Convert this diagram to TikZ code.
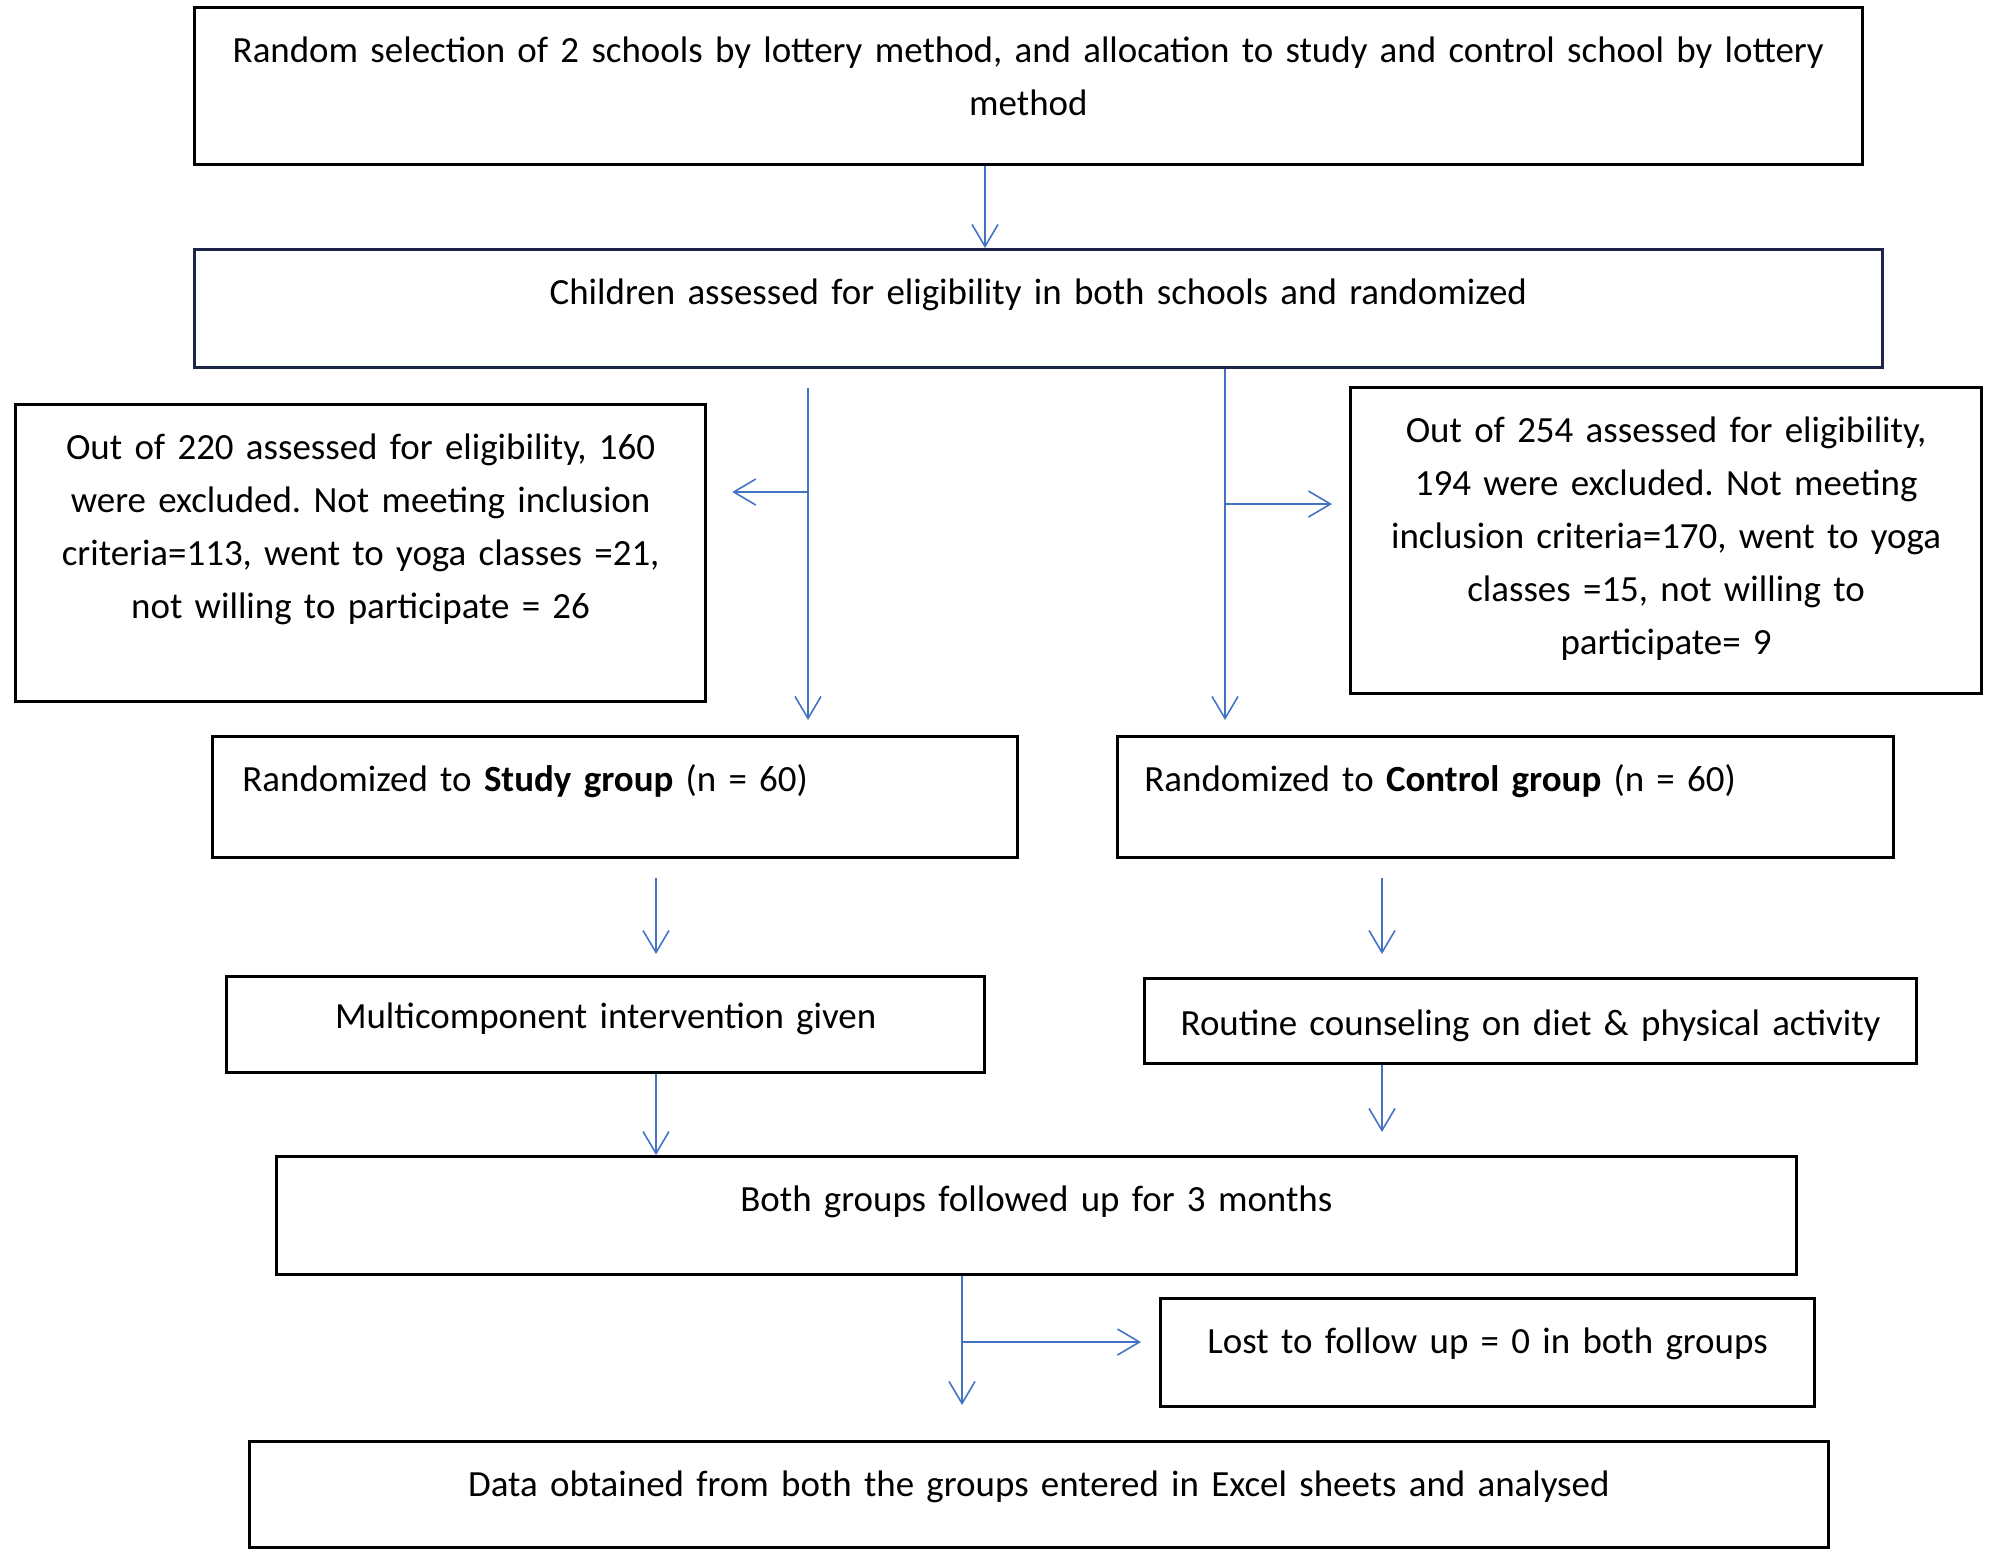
\documentclass[tikz,border=0pt]{standalone}
\usepackage{fontspec}
\setmainfont{Carlito}
\usepackage{xcolor}
\usetikzlibrary{arrows.meta,positioning}
\definecolor{flowblue}{RGB}{68,114,196}
\definecolor{navyline}{RGB}{28,36,72}
\frenchspacing

\begin{document}
\begin{tikzpicture}[
    x=0.01cm, y=-0.01cm,
    box/.style={rectangle, draw=black, line width=0.8pt, inner xsep=0.1cm, inner ysep=0pt, text height=0.55cm, anchor=north west, align=center, font=\fontsize{10.5}{15.1}\selectfont},
    leftbox/.style={box, inner xsep=0.3cm, align=left},
    arrow/.style={-{Straight Barb[length=0.22cm, width=0.26cm]}, line width=0.45pt, draw=flowblue}
]
    \useasboundingbox (0,0) rectangle (1995,1553);

    \node (sel) [box, text width=16.47cm, text depth=1.02cm] at (193,6) {Random selection of 2 schools by lottery method, and allocation to study and control school by lottery\\method};
    \node (assess) [box, draw=navyline, text width=16.67cm, text depth=0.63cm] at (193,248) {Children assessed for eligibility in both schools and randomized};
    \node (exl) [box, text width=6.70cm, text depth=2.42cm] at (14,403) {Out of 220 assessed for eligibility, 160\\were excluded. Not meeting inclusion\\criteria=113, went to yoga classes =21,\\not willing to participate = 26};
    \node (exr) [box, text width=6.11cm, text depth=2.51cm] at (1349,386) {Out of 254 assessed for eligibility,\\194 were excluded. Not meeting\\inclusion criteria=170, went to yoga\\classes =15, not willing to\\participate= 9};
    \node (study) [leftbox, text width=7.45cm, text depth=0.66cm] at (211,735) {Randomized to \textbf{Study group} (n = 60)};
    \node (control) [leftbox, inner xsep=0.27cm, text width=7.22cm, text depth=0.66cm] at (1116,735) {Randomized to \textbf{Control group} (n = 60)};
    \node (multi) [box, text width=7.38cm, text height=0.52cm, text depth=0.44cm] at (225,975) {Multicomponent intervention given};
    \node (routine) [box, text width=7.52cm, text height=0.57cm, text depth=0.28cm] at (1143,977) {Routine counseling on diet \& physical activity};
    \node (both) [box, text width=14.99cm, text depth=0.63cm] at (275,1155) {Both groups followed up for 3 months};
    \node (lost) [box, text width=6.34cm, text depth=0.53cm] at (1159,1297) {Lost to follow up = 0 in both groups};
    \node (data) [box, text width=15.58cm, text depth=0.51cm] at (248,1440) {Data obtained from both the groups entered in Excel sheets and analysed};

    \coordinate (s0) at (985,163);
    \coordinate (ltrunk) at (808,388);
    \coordinate (lsplit) at (808,492);
    \coordinate (rsplit) at (1225,504);
    \coordinate (s1) at (656,878);
    \coordinate (c1) at (1382,878);
    \coordinate (dsplit) at (962,1342);

    \draw [arrow] (sel.south -| s0) -- (assess.north -| s0);
    \draw [arrow, shorten >=0.15cm] (ltrunk) -- (ltrunk |- study.north);
    \draw [arrow, shorten >=0.25cm] (lsplit) -- (lsplit -| exl.east);
    \draw [arrow, shorten >=0.15cm] (assess.south -| rsplit) -- (rsplit |- control.north);
    \draw [arrow, shorten >=0.17cm] (rsplit) -- (rsplit -| exr.west);
    \draw [arrow, shorten >=0.21cm] (s1) -- (s1 |- multi.north);
    \draw [arrow, shorten >=0.23cm] (c1) -- (c1 |- routine.north);
    \draw [arrow] (multi.south -| s1) -- (both.north -| s1);
    \draw [arrow, shorten >=0.23cm] (routine.south -| c1) -- (both.north -| c1);
    \draw [arrow, shorten >=0.35cm] (both.south -| dsplit) -- (data.north -| dsplit);
    \draw [arrow, shorten >=0.18cm] (dsplit) -- (dsplit -| lost.west);
\end{tikzpicture}
\end{document}
